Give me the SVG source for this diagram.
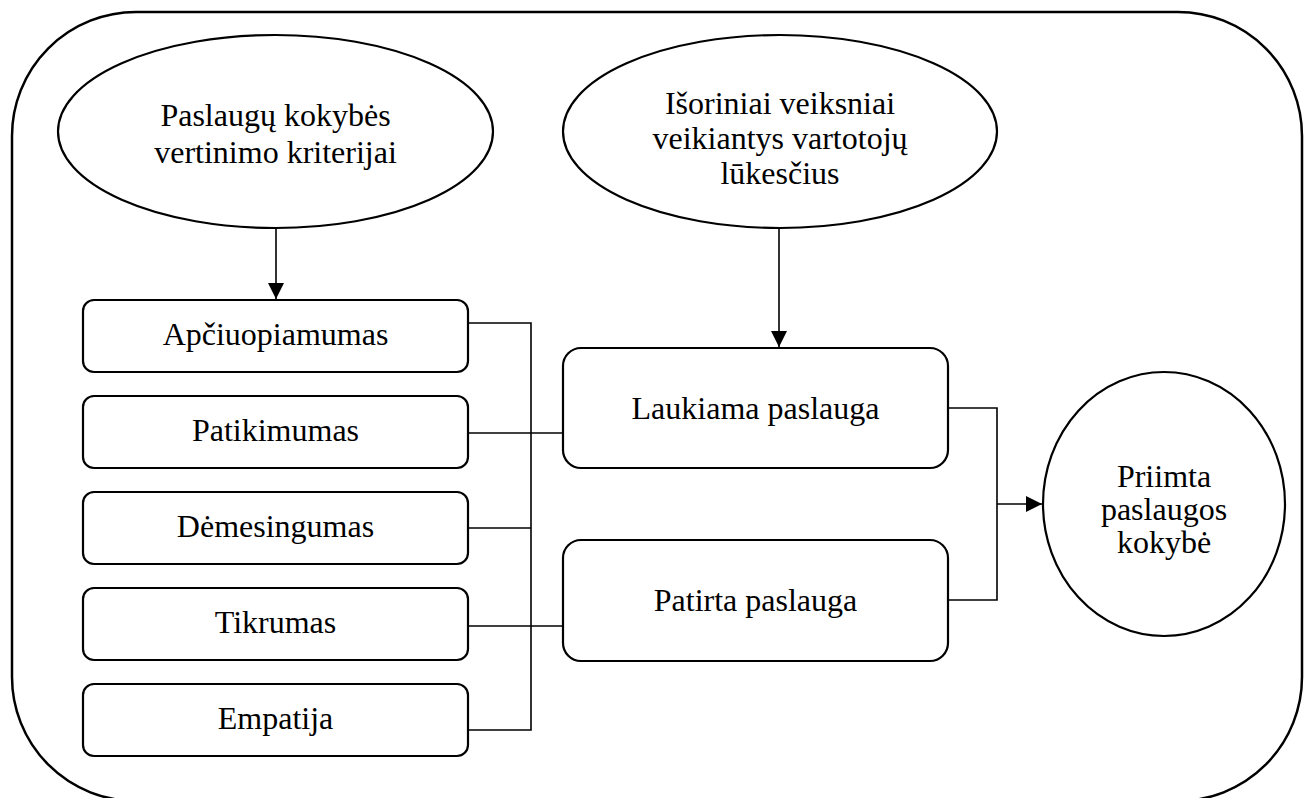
<svg xmlns="http://www.w3.org/2000/svg" width="1311" height="798" viewBox="0 0 1311 798">
<style>
.shape{fill:#fff;stroke:#000;stroke-width:2.2}
.frame{fill:none;stroke:#000;stroke-width:2.5}
.conn{fill:none;stroke:#000;stroke-width:1.6}
text{font-family:"Liberation Serif","Times New Roman",serif;font-size:32px;fill:#000;text-anchor:middle}
</style>
<defs>
<marker id="arr" markerUnits="userSpaceOnUse" markerWidth="16" markerHeight="16" viewBox="0 0 16 16" refX="16" refY="8" orient="auto">
<path d="M0,0 L16,8 L0,16 Z" fill="#000"/>
</marker>
</defs>
<rect width="1311" height="798" fill="#fff"/>
<g id="frame"><rect class="frame" x="12" y="12" width="1290" height="789" rx="124" ry="124"/></g>
<g id="connectors">
<line class="conn" x1="276" y1="228" x2="276" y2="299" marker-end="url(#arr)"/>
<line class="conn" x1="779" y1="228" x2="779" y2="347" marker-end="url(#arr)"/>
<polyline class="conn" points="468,323 531,323 531,730 468,730"/>
<line class="conn" x1="468" y1="433" x2="563" y2="433"/>
<line class="conn" x1="468" y1="528" x2="531" y2="528"/>
<line class="conn" x1="468" y1="626" x2="563" y2="626"/>
<polyline class="conn" points="948,408 997,408 997,600 948,600"/>
<line class="conn" x1="997" y1="504" x2="1042" y2="504" marker-end="url(#arr)"/>
</g>
<g id="kriterijai">
<ellipse class="shape" cx="275.5" cy="131.5" rx="217.5" ry="96.5"/>
<text x="275.5" y="126">Paslaugų kokybės</text>
<text x="275.5" y="163">vertinimo kriterijai</text>
</g>
<g id="isoriniai">
<ellipse class="shape" cx="780" cy="131.5" rx="217" ry="96.5"/>
<text x="780" y="114">Išoriniai veiksniai</text>
<text x="780" y="149">veikiantys vartotojų</text>
<text x="780" y="184">lūkesčius</text>
</g>
<g id="apciuopiamumas">
<rect class="shape" x="83" y="300" width="385" height="72" rx="11"/>
<text x="275.5" y="345">Apčiuopiamumas</text>
</g>
<g id="patikimumas">
<rect class="shape" x="83" y="396" width="385" height="72" rx="11"/>
<text x="275.5" y="441">Patikimumas</text>
</g>
<g id="demesingumas">
<rect class="shape" x="83" y="492" width="385" height="72" rx="11"/>
<text x="275.5" y="537">Dėmesingumas</text>
</g>
<g id="tikrumas">
<rect class="shape" x="83" y="588" width="385" height="72" rx="11"/>
<text x="275.5" y="633">Tikrumas</text>
</g>
<g id="empatija">
<rect class="shape" x="83" y="684" width="385" height="72" rx="11"/>
<text x="275.5" y="729">Empatija</text>
</g>
<g id="laukiama">
<rect class="shape" x="563" y="348" width="385" height="120" rx="18"/>
<text x="755.5" y="419">Laukiama paslauga</text>
</g>
<g id="patirta">
<rect class="shape" x="563" y="540" width="385" height="121" rx="18"/>
<text x="755.5" y="611">Patirta paslauga</text>
</g>
<g id="priimta">
<ellipse class="shape" cx="1164" cy="504" rx="121" ry="132"/>
<text x="1164" y="487">Priimta</text>
<text x="1164" y="520">paslaugos</text>
<text x="1164" y="553">kokybė</text>
</g>
</svg>
